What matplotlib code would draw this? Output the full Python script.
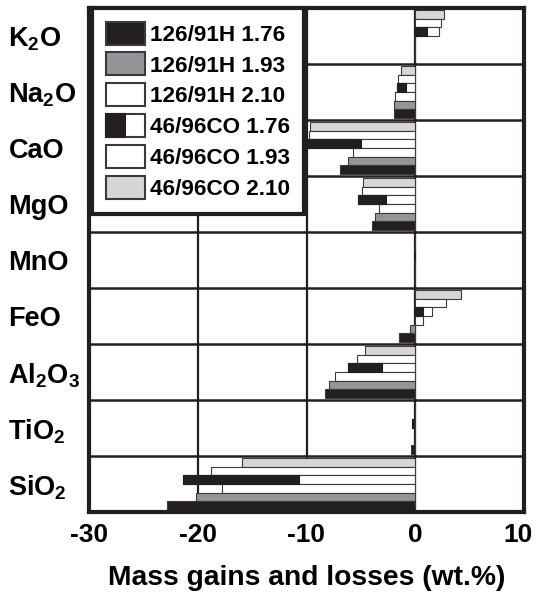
import numpy as np
import matplotlib
matplotlib.use('Agg')
import matplotlib.pyplot as plt
import matplotlib.transforms as mtransforms
from matplotlib.patches import Patch, Rectangle
from matplotlib.legend_handler import HandlerBase

plt.rcParams['font.family'] = 'Liberation Sans'
plt.rcParams['font.weight'] = 'bold'
plt.rcParams['mathtext.fontset'] = 'custom'
plt.rcParams['mathtext.rm'] = 'Liberation Sans:bold'
plt.rcParams['mathtext.bf'] = 'Liberation Sans:bold'
plt.rcParams['mathtext.default'] = 'bf'
plt.rcParams['axes.unicode_minus'] = False

# oxides, top to bottom
oxides = [r'K$_2$O', r'Na$_2$O', 'CaO', 'MgO', 'MnO', 'FeO',
          r'Al$_2$O$_3$', r'TiO$_2$', r'SiO$_2$']

# mass gains/losses (wt.%)
co_210 = [2.6, -1.3, -9.7, -4.8, 0, 4.2, -4.6, 0, -15.9]
co_193 = [2.4, -1.6, -9.8, -4.9, 0, 2.8, -5.4, 0, -18.8]
co_176 = [2.2, -1.7, -9.9, -5.3, 0, 1.5, -6.2, -0.3, -21.4]
h_210 = [0, -1.9, -5.7, -3.3, 0, 0.7, -7.4, 0, -17.8]
h_193 = [0, -2.0, -6.2, -3.7, 0, -0.5, -7.9, 0, -20.2]
h_176 = [0, -2.0, -6.9, -4.0, 0, -1.5, -8.3, -0.4, -22.8]

negro = '#231f20'
gris = '#939497'
claro = '#d5d6d8'
borde = '#3a3a3a'

fig = plt.figure(figsize=(5.36, 5.93), dpi=100)
ax = fig.add_axes([89/536, 1-512/593, 435/536, 504/593])

n = len(oxides)
ypos = np.arange(n)[::-1]  # K2O at top
alto = 0.155
series = [co_210, co_193, co_176, h_210, h_193, h_176]
colores = [claro, 'white', 'white', 'white', gris, negro]

for j, (vals, col) in enumerate(zip(series, colores)):
    off = 0.5 - 0.036 - alto*(j + 0.5)
    vals = np.array(vals)
    ax.barh(ypos + off, vals, height=alto, color=col, edgecolor=borde,
            linewidth=0.8, zorder=2)
    if j == 2:
        # mitad izquierda negra
        izq = np.minimum(vals, 0)
        ax.barh(ypos + off, np.abs(vals)/2, left=izq, height=alto,
                color=negro, edgecolor=negro, linewidth=0.8, zorder=3)

ax.set_xlim(-30, 10)
ax.set_ylim(-0.5, n - 0.5)
ax.set_xticks([-30, -20, -10, 0, 10])
ax.set_yticks(ypos)
ax.set_yticklabels(oxides)
for t in ax.get_yticklabels():
    t.set_ha('left')
ax.tick_params(axis='y', length=0, pad=58, labelsize=19.5)
ax.tick_params(axis='x', length=0, pad=8, labelsize=19)

# el 10 se corre un poco para que no se corte
ult = ax.get_xticklabels()[-1]
ult.set_transform(ult.get_transform() +
                  mtransforms.ScaledTranslation(-6/100, 0, fig.dpi_scale_trans))

for x in [-20, -10, 0]:
    ax.axvline(x, color=negro, lw=1.6, zorder=1)
for k in range(n - 1):
    ax.axhline(k + 0.5, color=negro, lw=1.8, zorder=1)

for s in ax.spines.values():
    s.set_linewidth(3)
    s.set_color(negro)

ax.set_xlabel('Mass gains and losses (wt.%)', fontsize=20.3,
              fontweight='bold', labelpad=13)


class MitadHandler(HandlerBase):
    def create_artists(self, legend, orig_handle, xdescent, ydescent,
                       width, height, fontsize, trans):
        r1 = Rectangle((-xdescent, -ydescent), width, height,
                       facecolor='white', edgecolor=borde, lw=1.5,
                       transform=trans)
        r2 = Rectangle((-xdescent, -ydescent), width/2, height,
                       facecolor=negro, edgecolor=negro, lw=1.5,
                       transform=trans)
        return [r1, r2]


mitad = Patch(facecolor='white', edgecolor=borde)
handles = [Patch(facecolor=negro, edgecolor=borde, lw=1.5),
           Patch(facecolor=gris, edgecolor=borde, lw=1.5),
           Patch(facecolor='white', edgecolor=borde, lw=1.5),
           mitad,
           Patch(facecolor='white', edgecolor=borde, lw=1.5),
           Patch(facecolor=claro, edgecolor=borde, lw=1.5)]
etiquetas = ['126/91H 1.76', '126/91H 1.93', '126/91H 2.10',
             '46/96CO 1.76', '46/96CO 1.93', '46/96CO 2.10']
leg = ax.legend(handles, etiquetas, loc='upper left',
                bbox_to_anchor=(3/435, 1.0), borderaxespad=0,
                fontsize=16.2, handlelength=1.75, handleheight=1.2,
                labelspacing=0.3, handletextpad=0.25, borderpad=0.6,
                fancybox=False, framealpha=1, edgecolor=negro,
                handler_map={mitad: MitadHandler()})
leg.get_frame().set_linewidth(3)
leg.set_zorder(5)

fig.savefig('out.png', dpi=100)
